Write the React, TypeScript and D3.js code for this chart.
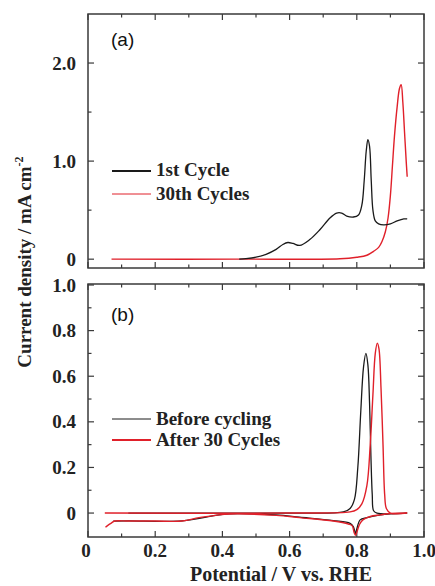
import React from "react";
import * as d3 from "d3";

// Panel (a): CV scans, first vs. 30th cycle
const aFirstX = [0.45, 0.47, 0.5, 0.53, 0.56, 0.58, 0.595, 0.61, 0.63, 0.66, 0.69, 0.72, 0.74, 0.755, 0.77, 0.79, 0.805, 0.815, 0.822, 0.828, 0.833, 0.838, 0.843, 0.848, 0.855, 0.865, 0.88, 0.9, 0.92, 0.94, 0.95];
const aFirstY = [0, 0.005, 0.02, 0.05, 0.1, 0.15, 0.17, 0.16, 0.14, 0.2, 0.3, 0.42, 0.47, 0.47, 0.44, 0.43, 0.45, 0.55, 0.8, 1.1, 1.22, 1.15, 0.8, 0.5, 0.39, 0.36, 0.35, 0.36, 0.39, 0.41, 0.41];
const aThirtiethX = [0.07, 0.45, 0.75, 0.8, 0.83, 0.85, 0.865, 0.875, 0.885, 0.893, 0.9, 0.906, 0.912, 0.92, 0.927, 0.932, 0.937, 0.942, 0.947, 0.95];
const aThirtiethY = [0, 0, 0.005, 0.02, 0.04, 0.08, 0.12, 0.18, 0.28, 0.42, 0.65, 0.95, 1.25, 1.55, 1.74, 1.78, 1.6, 1.3, 1.0, 0.84];

// Panel (b): before cycling vs. after 30 cycles (anodic then cathodic sweep)
const bBeforeX = [0.12, 0.6, 0.76, 0.78, 0.793, 0.803, 0.812, 0.82, 0.827, 0.833, 0.838, 0.842, 0.846, 0.85, 0.86, 0.95,
  0.95, 0.87, 0.83, 0.81, 0.8, 0.796, 0.79, 0.78, 0.73, 0.63, 0.56, 0.42, 0.38, 0.28, 0.12, 0.075];
const bBeforeY = [0, 0, 0.005, 0.02, 0.06, 0.2, 0.45, 0.64, 0.7, 0.65, 0.48, 0.25, 0.08, 0.01, 0, 0,
  0, -0.008, -0.02, -0.03, -0.07, -0.09, -0.06, -0.045, -0.033, -0.018, -0.008, -0.003, -0.01, -0.034, -0.034, -0.035];
const bAfterX = [0.05, 0.6, 0.78, 0.8, 0.815, 0.83, 0.84, 0.848, 0.855, 0.861, 0.866, 0.872, 0.878, 0.883, 0.888, 0.9, 0.95,
  0.95, 0.9, 0.87, 0.84, 0.818, 0.808, 0.801, 0.796, 0.792, 0.786, 0.775, 0.73, 0.63, 0.56, 0.42, 0.38, 0.33, 0.28, 0.2, 0.12, 0.08, 0.068, 0.058, 0.052];
const bAfterY = [0, 0, 0.005, 0.015, 0.04, 0.12, 0.3, 0.52, 0.7, 0.745, 0.72, 0.55, 0.3, 0.08, 0.02, 0, 0,
  0, -0.002, -0.008, -0.015, -0.03, -0.05, -0.08, -0.098, -0.085, -0.055, -0.048, -0.035, -0.02, -0.01, -0.004, -0.01, -0.02, -0.035, -0.035, -0.035, -0.035, -0.045, -0.055, -0.062];

const xTickLabels = ["0", "0.2", "0.4", "0.6", "0.8", "1.0"];
const aYTickLabels = ["0", "1.0", "2.0"];
const bYTickLabels = ["0", "0.2", "0.4", "0.6", "0.8", "1.0"];

const W = 435;
const H = 586;
const left = 88;
const right = 424;
const frame = "#3a3a3a";
const ink = "#222";
const serif = "'Liberation Serif', 'DejaVu Serif', serif";
const sans = "'Liberation Sans', Arial, sans-serif";

const x = d3.scaleLinear().domain([0, 1.0]).range([left, right]);
const yA = d3.scaleLinear().domain([-0.09, 2.5]).range([268, 14]);
const yB = d3.scaleLinear().domain([-0.105, 1.0]).range([537, 285]);

type Pt = [number, number];
const zip = (xs: number[], ys: number[]): Pt[] => xs.map((v, i) => [v, ys[i]]);

function Frame({ y, top, bottom, yMajor, yMinor, labels }: {
  y: d3.ScaleLinear<number, number>; top: number; bottom: number;
  yMajor: number[]; yMinor: number[]; labels: string[];
}) {
  const xMajor = d3.range(0, 1.0001, 0.2);
  const xMinor = d3.range(0.1, 1.0, 0.2);
  const maj = 6;
  const min = 3.5;
  return (
    <g>
      <rect x={left} y={top} width={right - left} height={bottom - top} fill="none" stroke={frame} strokeWidth={1.5} />
      {xMajor.map((t, i) => (
        <g key={"xm" + i}>
          <line x1={x(t)} x2={x(t)} y1={bottom} y2={bottom - maj} stroke={frame} strokeWidth={1.2} />
          <line x1={x(t)} x2={x(t)} y1={top} y2={top + maj} stroke={frame} strokeWidth={1.2} />
        </g>
      ))}
      {xMinor.map((t, i) => (
        <g key={"xn" + i}>
          <line x1={x(t)} x2={x(t)} y1={bottom} y2={bottom - min} stroke={frame} strokeWidth={1.2} />
          <line x1={x(t)} x2={x(t)} y1={top} y2={top + min} stroke={frame} strokeWidth={1.2} />
        </g>
      ))}
      {yMajor.map((t, i) => (
        <g key={"ym" + i}>
          <line x1={left} x2={left + maj} y1={y(t)} y2={y(t)} stroke={frame} strokeWidth={1.2} />
          <line x1={right} x2={right - maj} y1={y(t)} y2={y(t)} stroke={frame} strokeWidth={1.2} />
          <text x={76} y={y(t)} dy="0.35em" textAnchor="end" fontFamily={serif} fontWeight="bold" fontSize={19} fill={ink}>{labels[i]}</text>
        </g>
      ))}
      {yMinor.map((t, i) => (
        <g key={"yn" + i}>
          <line x1={left} x2={left + min} y1={y(t)} y2={y(t)} stroke={frame} strokeWidth={1.2} />
          <line x1={right} x2={right - min} y1={y(t)} y2={y(t)} stroke={frame} strokeWidth={1.2} />
        </g>
      ))}
    </g>
  );
}

export default function App() {
  const lineA = d3.line<Pt>().x((d) => x(d[0])).y((d) => yA(d[1])).curve(d3.curveCatmullRom.alpha(0.5));
  const lineB = d3.line<Pt>().x((d) => x(d[0])).y((d) => yB(d[1])).curve(d3.curveCatmullRom.alpha(0.5));
  const red = "#e0202a";

  return (
    <svg width={W} height={H} style={{ position: "absolute", left: 0, top: 0, background: "#fff" }}>
      {/* panel (a) */}
      <Frame y={yA} top={14} bottom={268} yMajor={[0, 1, 2]} yMinor={[0.5, 1.5]} labels={aYTickLabels} />
      <path d={lineA(zip(aThirtiethX, aThirtiethY)) || ""} fill="none" stroke={red} strokeWidth={1.4} />
      <path d={lineA(zip(aFirstX, aFirstY)) || ""} fill="none" stroke="#1a1a1a" strokeWidth={1.3} />
      <text x={111} y={46} fontFamily={sans} fontSize={19} fill="#111">(a)</text>
      <line x1={112} x2={151} y1={171} y2={171} stroke="#1a1a1a" strokeWidth={2.2} />
      <text x={156} y={176} fontFamily={serif} fontWeight="bold" fontSize={19} fill={ink}>1st Cycle</text>
      <line x1={112} x2={151} y1={194} y2={194} stroke={red} strokeWidth={1} />
      <text x={156} y={200} fontFamily={serif} fontWeight="bold" fontSize={19} fill={ink}>30th Cycles</text>

      {/* panel (b) */}
      <Frame y={yB} top={284} bottom={537} yMajor={[0, 0.2, 0.4, 0.6, 0.8, 1.0]} yMinor={[0.1, 0.3, 0.5, 0.7, 0.9]} labels={bYTickLabels} />
      <path d={lineB(zip(bBeforeX, bBeforeY)) || ""} fill="none" stroke="#1a1a1a" strokeWidth={1.3} />
      <path d={lineB(zip(bAfterX, bAfterY)) || ""} fill="none" stroke={red} strokeWidth={1.4} />
      <text x={111} y={321} fontFamily={sans} fontSize={19} fill="#111">(b)</text>
      <line x1={112} x2={151} y1={419} y2={419} stroke="#1a1a1a" strokeWidth={1} />
      <text x={156} y={425} fontFamily={serif} fontWeight="bold" fontSize={19} fill={ink}>Before cycling</text>
      <line x1={112} x2={151} y1={440} y2={440} stroke={red} strokeWidth={2.2} />
      <text x={156} y={446} fontFamily={serif} fontWeight="bold" fontSize={19} fill={ink}>After 30 Cycles</text>

      {/* shared x axis labels */}
      {xTickLabels.map((lab, i) => (
        <text key={lab} x={x(i * 0.2) + (i === 0 ? -2 : 0)} y={557} textAnchor="middle" fontFamily={serif} fontWeight="bold" fontSize={19} fill={ink}>{lab}</text>
      ))}
      <text x={281} y={581} textAnchor="middle" fontFamily={serif} fontWeight="bold" fontSize={20} fill={ink}>Potential / V vs. RHE</text>

      {/* shared y axis title */}
      <text transform="translate(31,262) rotate(-90)" textAnchor="middle" fontFamily={serif} fontWeight="bold" fontSize={19} fill={ink}>
        Current density / mA cm<tspan dy={-8} fontSize={12}>-2</tspan>
      </text>
    </svg>
  );
}
